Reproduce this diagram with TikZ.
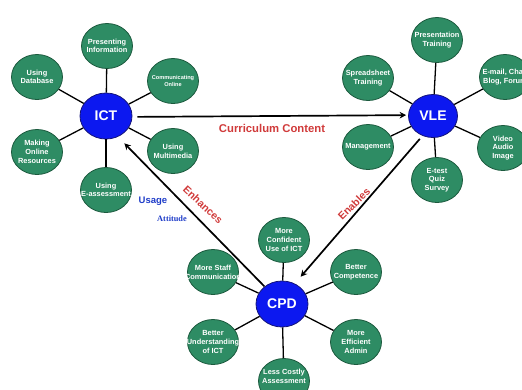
\documentclass[tikz,border=0pt]{standalone}
\usepackage{fontspec}
\setmainfont{Liberation Sans}
\newfontfamily\serifb{Liberation Serif}
\usetikzlibrary{shapes.geometric,arrows.meta}
\definecolor{gfill}{RGB}{46,140,100}
\definecolor{gdraw}{RGB}{28,90,62}
\definecolor{bfill}{RGB}{12,24,240}
\definecolor{bdraw}{RGB}{20,20,120}
\definecolor{lred}{RGB}{208,58,58}
\definecolor{lblue}{RGB}{30,60,200}
\tikzset{
  hub/.style={ellipse, draw=bdraw, line width=0.8pt, fill=bfill, inner sep=0pt,
    minimum width=52pt, minimum height=46pt, text=white,
    font=\fontsize{14}{16}\selectfont\bfseries},
  leafshape/.style={ellipse, draw=gdraw, line width=0.8pt, fill=gfill, inner sep=0pt,
    minimum width=51pt, minimum height=45pt},
  lbl/.style={text=white, align=center, inner sep=0pt,
    font=\fontsize{7.4}{8.7}\selectfont\bfseries},
  leaf/.style={leafshape, label={[lbl]center:{#1}}},
  leafsmall/.style={leafshape, label={[lbl, font=\fontsize{5.6}{6.8}\selectfont\bfseries]center:{#1}}},
  spoke/.style={line width=1.3pt, black},
  arr/.style={line width=1.7pt, black, -{Stealth[length=6.5pt,width=6.5pt]}},
  redlbl/.style={text=lred, font=\fontsize{10.5}{12}\selectfont\bfseries},
}
\begin{document}
\begin{tikzpicture}[x=1pt,y=-1pt]
\useasboundingbox (0,0) rectangle (522,389);
\clip (0,0) rectangle (522,389);
% hubs
\node[hub] (ICT) at (106,116) {ICT};
\node[hub, minimum width=49pt, minimum height=43pt] (VLE) at (433,116) {VLE};
\node[hub] (CPD) at (282,304) {CPD};
% ICT leaves
\node[leaf={Presenting\\Information}] (pres) at (107,46) {};
\node[leaf={Using\\Database}] (db) at (37,77) {};
\node[leafsmall={Communicating\\Online}] (comm) at (173,81) {};
\node[leaf={Making\\Online\\Resources}] (mor) at (37,152) {};
\node[leaf={Using\\Multimedia}] (mm) at (173,151) {};
\node[leaf={Using\\E-assessment}] (eas) at (106,190) {};
% VLE leaves
\node[leaf={Presentation\\Training}] (pt) at (437,40) {};
\node[leaf={Spreadsheet\\Training}] (ss) at (368,78) {};
\node[leaf={E-mail, Chat,\\Blog, Forum}] (email) at (505,77) {};
\node[leaf={Management}] (mgmt) at (368,147) {};
\node[leaf={Video\\Audio\\Image}] (vai) at (503,148) {};
\node[leaf={E-test\\Quiz\\Survey}] (eqs) at (437,180) {};
% CPD leaves
\node[leaf={More\\Confident\\Use of ICT}] (mcu) at (284,240) {};
\node[leaf={More Staff\\Communication}] (msc) at (213,272) {};
\node[leaf={Better\\Competence}] (bc) at (356,272) {};
\node[leaf={Better\\Understanding\\of ICT}] (bu) at (213,342) {};
\node[leaf={More\\Efficient\\Admin}] (mea) at (356,342) {};
\node[leafshape, label={[lbl, yshift=5pt]center:{Less Costly\\Assessment}}] (lca) at (284,381) {};
% spokes
\foreach \n in {pres,db,comm,mor,mm,eas} \draw[spoke] (ICT) -- (\n);
\foreach \n in {pt,ss,email,mgmt,vai,eqs} \draw[spoke] (VLE) -- (\n);
\foreach \n in {mcu,msc,bc,bu,mea,lca} \draw[spoke] (CPD) -- (\n);
% main arrows
\draw[arr, shorten <=5pt, shorten >=2pt] (ICT.-2) -- (VLE.178);
\draw[arr, shorten >=9pt] (CPD.135) -- (ICT.-60);
\draw[arr, shorten <=4pt, shorten >=9pt] (VLE.-118) -- (CPD.58);
% labels
\node[redlbl, font=\fontsize{11.3}{13}\selectfont\bfseries] (cc) at (272,128) {Curriculum Content};
\node[redlbl, rotate=-43] (enh) at (203,205) {Enhances};
\node[redlbl, rotate=45] (ena) at (354,204) {Enables};
\node[text=lblue, font=\fontsize{9.5}{11}\selectfont\bfseries] (usage) at (153,201) {Usage};
\node[text=lblue, font=\serifb\fontsize{8.3}{10}\selectfont\bfseries] (att) at (172,219) {Attitude};
\end{tikzpicture}
\end{document}
